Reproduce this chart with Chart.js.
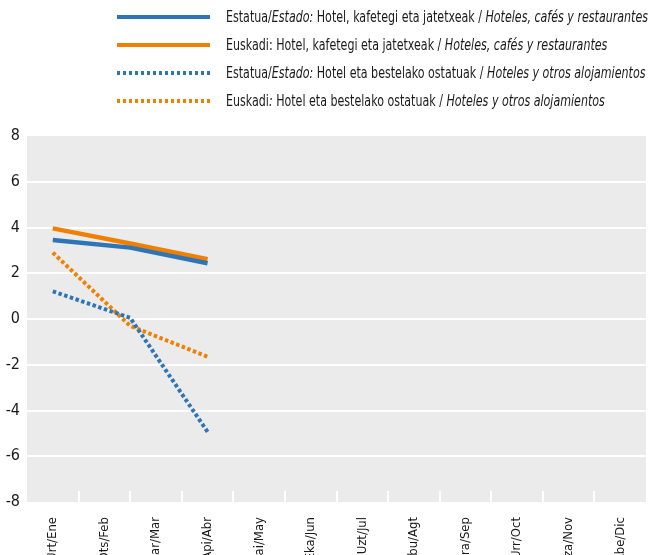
<!DOCTYPE html>
<html>
<head>
<meta charset="utf-8">
<script src="https://cdn.jsdelivr.net/npm/chart.js@4"></script>
<style>
  html, body { margin: 0; padding: 0; background: #fff; }
  #wrap { position: relative; width: 651px; height: 555px; overflow: hidden; }
  #c { position: absolute; left: 0; top: 0; }
  #legend { position: absolute; left: 0; top: 0; width: 651px; font-family: 'Liberation Sans Narrow', 'DejaVu Sans Condensed', sans-serif; font-size: 15.5px; color: #1a1a1a; }
  .row { position: absolute; left: 117px; height: 20px; white-space: nowrap; }
  .sample { position: absolute; left: 0; top: 8px; width: 93px; height: 4px; }
  .txt { position: absolute; left: 109px; top: 0; line-height: 20px; transform-origin: 0 50%; }
  i { font-style: italic; }
</style>
</head>
<body>
<div id="wrap">
  <canvas id="c" width="651" height="555"></canvas>
  <div id="legend"></div>
</div>
<script>
// ---- data ----
const monthLabels = ['Urt/Ene','Ots/Feb','Mar/Mar','Api/Abr','Mai/May','Eka/Jun','Uzt/Jul','Abu/Agt','Ira/Sep','Urr/Oct','Aza/Nov','Abe/Dic'];
const pointPositions = [0, 1.5, 3];
const estadoHoteles = [3.45, 3.12, 2.44];
const euskadiHoteles = [3.96, 3.30, 2.61];
const estadoAlojamientos = [1.21, 0.05, -4.93];
const euskadiAlojamientos = [2.90, -0.30, -1.65];
const yTicks = [-8, -6, -4, -2, 0, 2, 4, 6, 8];

const BLUE = '#2E75B6';
const ORANGE = '#F08000';
const FONT = "'Liberation Sans Narrow', 'DejaVu Sans Condensed', sans-serif";

const legendItems = [
  { color: BLUE, dotted: false, html: 'Estatua/<i>Estado:</i> Hotel, kafetegi eta jatetxeak / <i>Hoteles, cafés y restaurantes</i>' },
  { color: ORANGE, dotted: false, html: 'Euskadi: Hotel, kafetegi eta jatetxeak / <i>Hoteles, cafés y restaurantes</i>' },
  { color: BLUE, dotted: true, html: 'Estatua/<i>Estado:</i> Hotel eta bestelako ostatuak / <i>Hoteles y otros alojamientos</i>' },
  { color: ORANGE, dotted: true, html: 'Euskadi<i>:</i> Hotel eta bestelako ostatuak / <i>Hoteles y otros alojamientos</i>' }
];
const legendEl = document.getElementById('legend');
const txtEls = [];
legendItems.forEach((it, i) => {
  const row = document.createElement('div');
  row.className = 'row';
  row.style.top = (7 + i * 28) + 'px';
  const s = document.createElement('div');
  s.className = 'sample';
  s.style.background = it.dotted
    ? `repeating-linear-gradient(to right, ${it.color} 0 3.5px, transparent 3.5px 6px)`
    : it.color;
  const t = document.createElement('div');
  t.className = 'txt';
  t.innerHTML = it.html;
  row.appendChild(s); row.appendChild(t);
  legendEl.appendChild(row);
  txtEls.push(t);
});
// condense legend text horizontally so the first row spans ~423px like the reference
const firstW = txtEls[0].getBoundingClientRect().width;
const sx = firstW > 0 ? 422 / firstW : 1;
txtEls.forEach(t => { t.style.transform = `scaleX(${sx})`; });

function toXY(vals) { return vals.map((v, i) => ({ x: pointPositions[i], y: v })); }

const bgPlugin = {
  id: 'bg',
  beforeDraw(chart) {
    const { ctx, chartArea: a } = chart;
    ctx.save();
    ctx.fillStyle = '#EBEBEB';
    ctx.fillRect(a.left, a.top, a.right - a.left, a.bottom - a.top);
    ctx.restore();
  },
  beforeDatasetsDraw(chart) {
    const { ctx, chartArea: a, scales } = chart;
    ctx.save();
    ctx.strokeStyle = '#FFFFFF';
    ctx.lineWidth = 2;
    for (let i = 0; i < monthLabels.length - 1; i++) {
      const px = Math.round(scales.x.getPixelForValue(i + 0.5));
      ctx.beginPath();
      ctx.moveTo(px, a.bottom);
      ctx.lineTo(px, a.bottom - 11);
      ctx.stroke();
    }
    ctx.restore();
  }
};

const common = { pointRadius: 0, tension: 0, fill: false, borderCapStyle: 'butt', borderJoinStyle: 'miter' };

new Chart(document.getElementById('c'), {
  type: 'line',
  data: {
    datasets: [
      { ...common, label: 'estadoHoteles', data: toXY(estadoHoteles), borderColor: BLUE, borderWidth: 4.5 },
      { ...common, label: 'euskadiHoteles', data: toXY(euskadiHoteles), borderColor: ORANGE, borderWidth: 4.5 },
      { ...common, label: 'estadoAlojamientos', data: toXY(estadoAlojamientos), borderColor: BLUE, borderWidth: 4, borderDash: [3.5, 2.5] },
      { ...common, label: 'euskadiAlojamientos', data: toXY(euskadiAlojamientos), borderColor: ORANGE, borderWidth: 4, borderDash: [3.5, 2.5] }
    ]
  },
  options: {
    responsive: false,
    animation: false,
    events: [],
    layout: { padding: { top: 136, right: 3, left: 0, bottom: 0 } },
    plugins: { legend: { display: false }, tooltip: { enabled: false } },
    scales: {
      x: {
        type: 'linear',
        min: -0.5,
        max: 11.5,
        afterBuildTicks(scale) { scale.ticks = monthLabels.map((l, i) => ({ value: i })); },
        afterFit(scale) { scale.height = 53; },
        grid: { display: false, drawTicks: false },
        border: { display: false },
        ticks: {
          autoSkip: false,
          minRotation: 90,
          maxRotation: 90,
          padding: 15,
          color: '#1a1a1a',
          font: { family: FONT, size: 13 },
          callback: (v) => monthLabels[v]
        }
      },
      y: {
        min: -8,
        max: 8,
        afterBuildTicks(scale) { scale.ticks = yTicks.map(v => ({ value: v })); },
        afterFit(scale) { scale.width = 27; },
        grid: {
          color: (ctx) => (ctx.tick && (ctx.tick.value === 8 || ctx.tick.value === -8)) ? 'rgba(0,0,0,0)' : '#FFFFFF',
          lineWidth: 2,
          drawTicks: false
        },
        border: { display: false },
        ticks: {
          padding: 7,
          color: '#1a1a1a',
          font: { family: FONT, size: 16 },
          callback: (v) => String(v)
        }
      }
    }
  },
  plugins: [bgPlugin]
});
</script>
</body>
</html>
